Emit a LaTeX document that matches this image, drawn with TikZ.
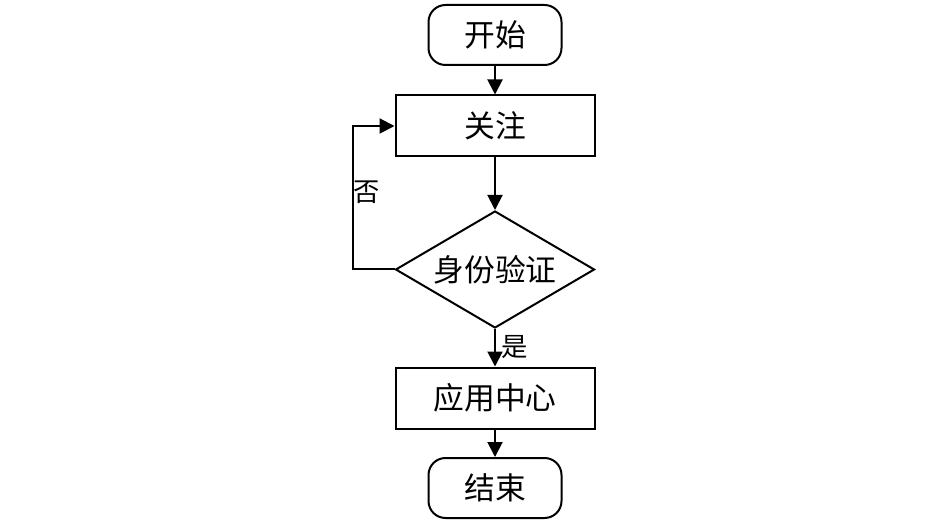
\documentclass[tikz,border=0pt]{standalone}
\usepackage{fontspec}
\newfontfamily\cjk{Noto Sans CJK SC}
\usetikzlibrary{arrows.meta,shapes.geometric}
\tikzset{
  terminal/.style={draw, line width=0.04cm, rounded corners=0.34cm, minimum width=2.66cm, minimum height=1.2cm, font=\cjk\fontsize{17.5}{20}\selectfont},
  process/.style={draw, line width=0.04cm, minimum width=3.98cm, minimum height=1.22cm, font=\cjk\fontsize{17.5}{20}\selectfont},
  decision/.style={draw, line width=0.04cm, diamond, aspect=1.7, minimum width=3.98cm, minimum height=2.34cm, inner sep=0pt, font=\cjk\fontsize{17.5}{20}\selectfont},
  label/.style={font=\cjk\fontsize{15}{18}\selectfont, inner sep=0pt},
  flow/.style={line width=0.04cm, -{Triangle[length=0.3cm,width=0.3cm]}}
}
\begin{document}
\begin{tikzpicture}
                    \useasboundingbox (0,0) rectangle (18.92,10.42);
                    
                    % Drawing nodes
                    \node [terminal] (start) at (9.9,9.72) {开始};
                    \node [process] (focus) at (9.9,7.9) {关注};
                    \node [decision] (verify) at (9.9,5.03) {身份验证};
                    \node [process] (app) at (9.9,2.46) {应用中心};
                    \node [terminal] (stop) at (9.9,0.66) {结束};
                    
                    % Drawing arrows down
                    \draw [flow] (start) -- (focus);
                    \draw [flow] (focus) -- (verify);
                    \draw [flow] (verify) -- (app);
                    \draw [flow] (app) -- (stop);
                    
                    % Drawing loop back
                    \coordinate (loop) at (7.06,5.03);
                    \draw [flow] (verify.west) -- (loop) |- (focus.west);
                    
                    % Marking labels
                    \node [label] (no) at (7.34,6.58) {否};
                    \node [label] (yes) at (10.3,3.48) {是};
\end{tikzpicture}
\end{document}
